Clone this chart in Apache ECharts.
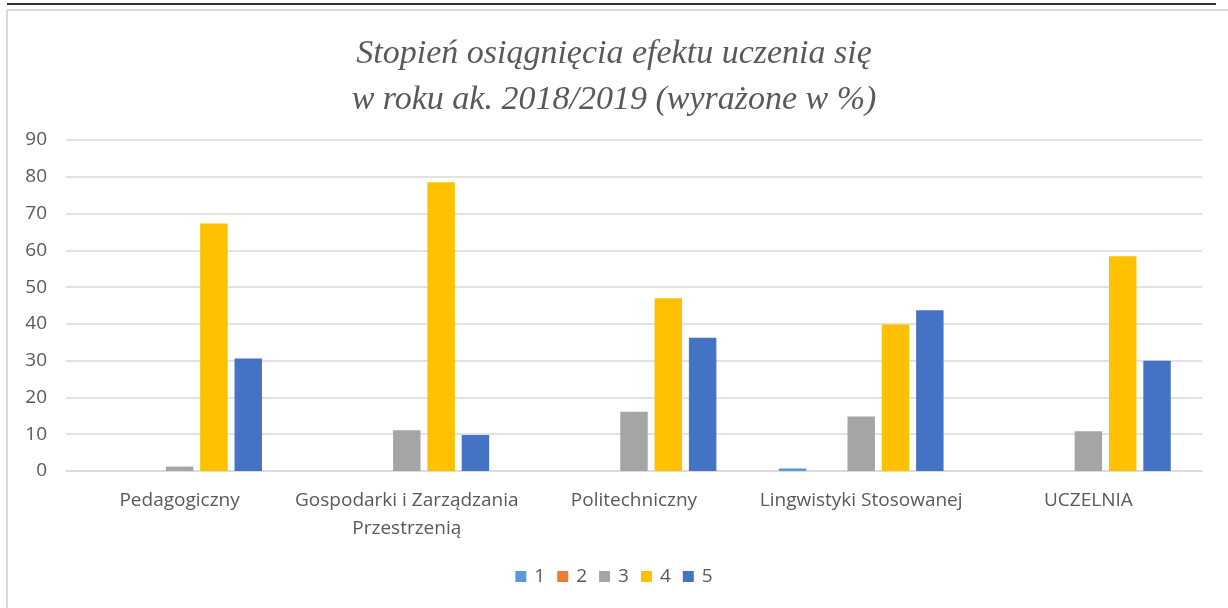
<!DOCTYPE html>
<html>
<head>
<meta charset="utf-8">
<script src="https://cdn.jsdelivr.net/npm/echarts@6/dist/echarts.min.js"></script>
<style>
  html, body { margin: 0; padding: 0; background: #fff; }
  #chart { width: 1228px; height: 608px; }
</style>
</head>
<body>
<div id="chart"></div>
<script>
// kategorie (wydziały)
const categories = ['Pedagogiczny', 'Gospodarki i Zarządzania\nPrzestrzenią', 'Politechniczny', 'Lingwistyki Stosowanej', 'UCZELNIA'];
const seriesNames = ['1', '2', '3', '4', '5'];
const colors = ['#5B9BD5', '#ED7D31', '#A5A5A5', '#FFC000', '#4472C4'];
// wartości w %
const ocena1 = [0, 0, 0, 0.7, 0];
const ocena2 = [0, 0, 0, 0, 0];
const ocena3 = [1.2, 11.1, 16.1, 14.8, 10.8];
const ocena4 = [67.3, 78.5, 47, 39.8, 58.4];
const ocena5 = [30.6, 9.8, 36.2, 43.7, 30.0];
const yTicks = { min: 0, max: 90, interval: 10 };

const allValues = [ocena1, ocena2, ocena3, ocena4, ocena5];

const chart = echarts.init(document.getElementById('chart'));

const series = seriesNames.map((name, i) => ({
  name: name,
  type: 'bar',
  data: allValues[i],
  barGap: '25%',
  barCategoryGap: '27.5%',
  itemStyle: { color: colors[i] },
  emphasis: { disabled: true }
}));

chart.setOption({
  animation: false,
  color: colors,
  title: {
    text: 'Stopień osiągnięcia efektu uczenia się\nw roku ak. 2018/2019 (wyrażone w %)',
    left: 'center',
    top: 26,
    textStyle: {
      fontFamily: 'Liberation Serif',
      fontStyle: 'italic',
      fontWeight: 'normal',
      fontSize: 34,
      lineHeight: 46,
      color: '#595959'
    }
  },
  legend: {
    bottom: 17,
    left: 'center',
    itemWidth: 11,
    itemHeight: 11,
    itemGap: 12,
    icon: 'rect',
    textStyle: { fontFamily: 'Open Sans', fontSize: 19, color: '#595959', padding: [0, 0, 0, 3] },
    data: seriesNames
  },
  grid: { left: 66, right: 26, top: 140, bottom: 137 },
  xAxis: {
    type: 'category',
    data: categories,
    axisLine: { show: true, lineStyle: { color: '#D9D9D9', width: 1.5 } },
    axisTick: { show: false },
    axisLabel: {
      interval: 0,
      fontFamily: 'Open Sans',
      fontSize: 19,
      color: '#595959',
      lineHeight: 28,
      margin: 16
    }
  },
  yAxis: {
    type: 'value',
    min: yTicks.min,
    max: yTicks.max,
    interval: yTicks.interval,
    axisLine: { show: false },
    axisTick: { show: false },
    splitLine: { lineStyle: { color: '#D9D9D9', width: 1.5 } },
    axisLabel: { fontFamily: 'Open Sans', fontSize: 19, color: '#595959', margin: 19 }
  },
  graphic: [
    { type: 'line', shape: { x1: 7, y1: 4, x2: 1216, y2: 4 }, style: { stroke: '#333', lineWidth: 2 } },
    { type: 'line', shape: { x1: 7, y1: 10, x2: 1228, y2: 10 }, style: { stroke: '#D9D9D9', lineWidth: 2 } },
    { type: 'line', shape: { x1: 7, y1: 10, x2: 7, y2: 608 }, style: { stroke: '#D9D9D9', lineWidth: 2 } }
  ],
  series: series
});
</script>
</body>
</html>
